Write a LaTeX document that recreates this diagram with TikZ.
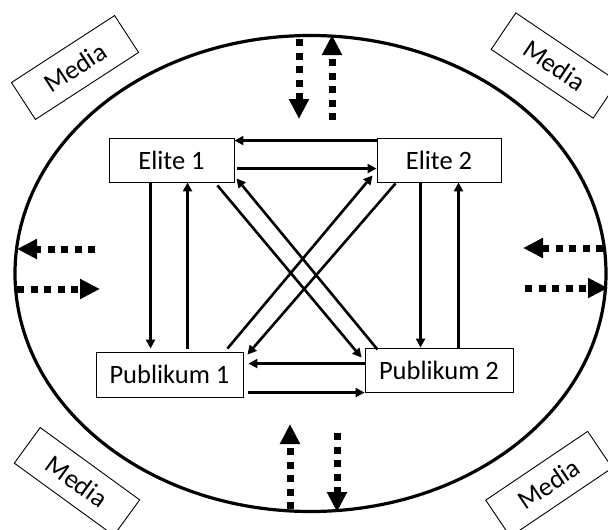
\documentclass[tikz,border=0pt]{standalone}
\usepackage{fontspec}
\setmainfont{Carlito}
\usetikzlibrary{arrows.meta,calc}
\begin{document}
\begin{tikzpicture}[x=1pt,y=-1pt,
  box/.style={draw,line width=0.9pt,inner sep=0pt,font=\fontsize{26.5}{30}\selectfont},
  mediabox/.style={box,minimum width=123pt,minimum height=44pt},
  arr/.style={line width=2.6pt,-{Triangle[width=9pt,length=9pt]}},
  dotarr/.style={line width=7pt,line cap=butt,dash pattern=on 7pt off 6.5pt,-{Triangle[width=19pt,length=20pt]}},
]
\useasboundingbox (0,0) rectangle (608,530);
% environment ellipse
\draw[line width=3.2pt] (310.5,273.5) ellipse [x radius=295.5, y radius=238];

% actors
\node[box,minimum width=125pt,minimum height=44pt] (e1) at (171.5,160) {Elite 1};
\node[box,minimum width=124pt,minimum height=44pt] (e2) at (439,160) {Elite 2};
\node[box,minimum width=147pt,minimum height=45pt] (p1) at (169.5,374.5) {Publikum 1};
\node[box,minimum width=148pt,minimum height=44pt] (p2) at (439,370) {Publikum 2};

% media
\node[mediabox,rotate=33] (m1) at (75,67.5) {Media};
\node[mediabox,rotate=-34] (m2) at (554.5,65.5) {Media};
\node[mediabox,rotate=-36] (m3) at (77,481.5) {Media};
\node[mediabox,rotate=34] (m4) at (549,484) {Media};

% horizontal
\draw[arr] ([yshift=-3pt]e2.north west) -- ([yshift=-3pt]e1.north east);
\draw[arr] ([xshift=3pt,yshift=-31pt]e1.north east) -- ([yshift=-31pt]e2.north west);
\draw[arr] ([yshift=-16pt]p2.north west) -- ([xshift=5pt,yshift=-12pt]p1.north east);
\draw[arr] ([xshift=5pt,yshift=-41pt]p1.north east) -- ([yshift=-45pt]p2.north west);

% vertical
\draw[arr] ([xshift=42pt]e1.south west) -- ([xshift=55pt,yshift=3pt]p1.north west);
\draw[arr] ([xshift=92pt,yshift=3pt]p1.north west) -- ([xshift=79pt]e1.south west);
\draw[arr] ([xshift=44pt]e2.south west) -- ([xshift=56pt]p2.north west);
\draw[arr] ([xshift=94pt]p2.north west) -- ([xshift=82pt]e2.south west);

% diagonals
\draw[arr] ([xshift=-17pt,yshift=-3pt]e1.south east) -- ([xshift=-3pt,yshift=-10pt]p2.north west);
\draw[arr] ([xshift=13pt,yshift=-2pt]p2.north west) -- ([xshift=2pt,yshift=4pt]e1.south east);
\draw[arr] ([xshift=-16pt,yshift=3pt]p1.north east) -- ([xshift=-4pt,yshift=7pt]e2.south west);
\draw[arr] ([xshift=19pt,yshift=-1pt]e2.south west) -- ([xshift=4pt,yshift=-3pt]p1.north east);

% media flows
\coordinate (t1a) at (299,39);  \coordinate (t1b) at (299,119);
\coordinate (t2a) at (332,120); \coordinate (t2b) at (332,35);
\coordinate (b1a) at (290,509); \coordinate (b1b) at (290,424);
\coordinate (b2a) at (337,433); \coordinate (b2b) at (337,512);
\coordinate (l1a) at (95,249);  \coordinate (l1b) at (17,249);
\coordinate (l2a) at (17,289);  \coordinate (l2b) at (100,289);
\coordinate (r1a) at (603,248); \coordinate (r1b) at (523,248);
\coordinate (r2a) at (525,288); \coordinate (r2b) at (608,288);
\foreach \a/\b in {t1a/t1b,t2a/t2b,b1a/b1b,b2a/b2b,l1a/l1b,l2a/l2b,r1a/r1b,r2a/r2b}
  \draw[dotarr] (\a) -- (\b);
\end{tikzpicture}
\end{document}
